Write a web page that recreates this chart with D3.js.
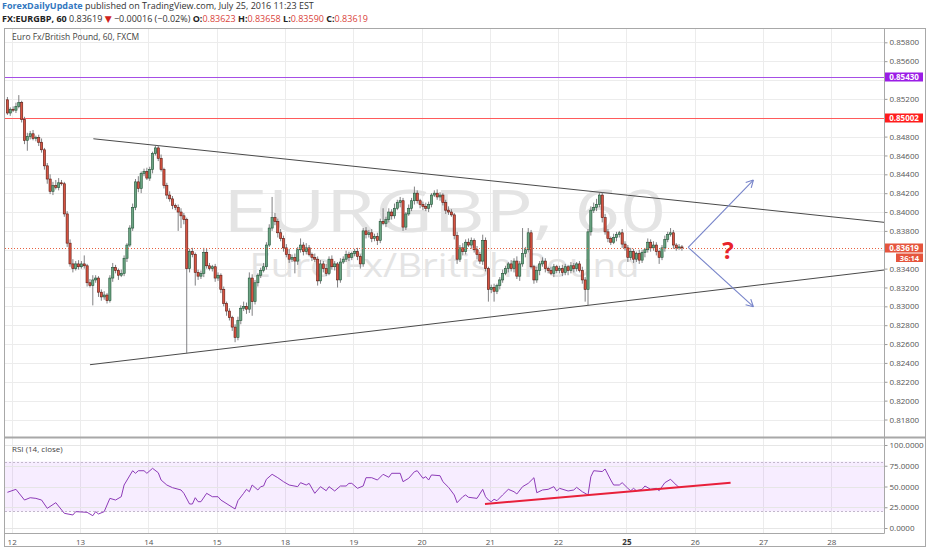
<!DOCTYPE html>
<html><head><meta charset="utf-8">
<script src="https://cdn.jsdelivr.net/npm/d3@7"></script>
<style>
body{margin:0;background:#fff}
svg{display:block}
text{font-family:"Open Sans","DejaVu Sans",sans-serif}
</style>
</head><body>
<svg id="c" width="932" height="550"></svg>
<script>
// ---------- DATA ----------
const dayLabels   = ["12","13","14","15","18","19","20","21","22","25","26","27","28"];
const dayStartBar = [0,24,48,72,96,120,144,168,192,216,240,264,288]; // hourly bar index of each session start
const firstBar  = -2;
const firstOpen = 8519;  // price x 10000
// hourly closes, price x 10000 (one line per session)
const closes = [
  8505,8509,
  8508,8512,8516,8498,8476,8480,8483,8478,8479,8474,8466,8449,8435,8422,8428,8426,8431,8430,8398,8367,8345,8340,8345,8342,
  8345,8343,8325,8322,8328,8330,8315,8310,8312,8306,8330,8341,8338,8333,8335,8351,8365,8383,8405,8432,8425,8441,8443,8436,
  8445,8462,8468,8457,8445,8428,8418,8414,8407,8405,8400,8396,8392,8340,8358,8355,8336,8332,8335,8357,8343,8340,8342,8330,
  8333,8318,8303,8295,8288,8278,8267,8285,8298,8300,8297,8330,8305,8325,8333,8338,8342,8365,8383,8394,8390,8378,8372,8362,
  8355,8350,8352,8348,8360,8365,8358,8362,8355,8352,8350,8327,8345,8340,8335,8350,8342,8345,8328,8347,8350,8355,8352,8356,
  8358,8353,8345,8380,8376,8378,8372,8374,8370,8390,8388,8392,8400,8396,8404,8410,8412,8384,8398,8404,8412,8420,8412,8408,
  8406,8404,8408,8418,8420,8416,8418,8410,8402,8400,8397,8375,8350,8362,8358,8368,8365,8370,8360,8355,8348,8370,8340,8318,
  8320,8316,8322,8328,8335,8340,8345,8340,8348,8332,8345,8356,8360,8378,8342,8328,8338,8345,8348,8340,8338,8335,8342,8338,
  8340,8336,8342,8338,8343,8340,8345,8338,8328,8318,8379,8402,8405,8408,8418,8394,8379,8372,8368,8373,8376,8378,8366,8362,
  8352,8358,8350,8356,8349,8357,8360,8368,8362,8365,8358,8352,8362,8371,8376,8378,8365,8362,8363,8362
];
// upper wick length above body, pips
const upperWick = [
  3,2,
  3,4,8,2,3,4,3,4,2,3,4,2,3,5,4,6,5,3,2,3,4,5,3,4,
  3,9,2,4,5,3,2,3,4,2,3,5,3,2,4,3,2,3,4,3,6,2,3,4,
  3,2,2,3,4,2,3,4,3,2,3,4,3,2,3,4,2,3,3,5,4,3,2,3,
  3,2,3,2,3,2,3,4,3,5,4,6,4,3,2,3,4,3,4,22,5,3,4,3,
  4,6,3,4,3,7,3,5,3,2,4,3,4,3,5,3,4,3,2,4,3,4,3,2,
  3,4,2,3,4,3,4,3,4,3,14,3,4,3,5,3,4,3,2,4,3,7,3,2,
  3,4,3,2,3,4,3,2,3,4,3,2,4,3,5,3,4,3,2,4,3,6,3,2,
  3,4,2,3,4,3,2,4,3,5,3,27,3,5,3,2,4,3,4,3,2,4,3,2,
  3,4,3,2,4,3,2,3,4,3,3,4,5,6,2,3,4,3,2,4,3,2,4,3,
  3,4,3,2,4,3,2,4,3,4,3,2,3,4,3,5,3,2,3,2
];
// lower wick length below body, pips
const lowerWick = [
  2,3,
  2,3,2,3,4,11,3,2,3,4,3,4,5,3,4,2,3,2,3,4,3,4,2,3,
  2,3,4,2,21,3,5,4,3,3,2,4,3,5,2,3,4,2,3,3,4,5,3,2,
  3,4,2,3,2,3,4,3,4,3,20,13,5,90,4,3,14,4,3,4,3,2,3,4,
  3,4,3,5,3,4,5,3,4,3,5,4,15,3,4,3,2,3,2,3,4,5,3,4,
  3,4,3,13,4,3,4,3,2,4,3,5,3,4,3,2,3,4,8,3,2,3,4,3,
  3,4,5,3,4,3,4,3,5,3,2,4,3,4,3,2,5,4,3,2,3,4,3,4,
  4,3,4,3,2,3,4,3,4,3,2,4,5,3,4,3,2,4,3,5,3,4,3,13,
  4,11,3,4,3,2,4,3,4,3,5,3,4,3,2,4,3,5,3,4,3,2,4,3,
  3,4,3,5,3,4,3,2,4,13,17,4,3,4,3,5,3,4,3,2,4,3,4,3,
  5,3,4,3,4,3,5,3,4,3,4,7,3,4,3,2,4,3,2,3
];
// RSI(14) readings: [bar, value]
const rsiPoints = [
  [-2,43],[1,46.6],[4,33.7],[6,36.5],[8,35.7],[10,33.7],[12,23.7],[15,30.5],[18,17.7],[21,15.7],[22,19.7],
  [26,18.9],[28,14.8],[29,19.7],[30,16.9],[32,19.7],[34,35.7],[36,33.7],[38,37.7],[39,51.8],[42,69],[43,65.9],
  [44,69],[46,69],[47,65.9],[49,71.9],[51,66.6],[52,57.8],[54,51.8],[56,48.6],[59,45.8],[60,41.8],[62,28.9],
  [63,28.9],[64,36.5],[65,31.7],[66,31.7],[68,41.8],[70,37.7],[72,37.7],[73,33.7],[78,22.9],[79,32.9],[81,41.8],
  [82,46.6],[83,43.7],[84,51.8],[86,45.8],[87,49.8],[88,50.6],[89,58.7],[91,64.7],[93,60.6],[95,55.8],[97,51.8],
  [100,49.8],[101,54.6],[103,51.8],[104,53.8],[106,41.8],[108,49.8],[110,44.9],[111,49.8],[113,44.6],[115,50.6],
  [117,50.6],[118,53.8],[119,53.8],[121,47.8],[123,50.6],[124,60.6],[126,60.6],[128,57.8],[130,64.7],[132,61.1],
  [133,65.9],[136,65.9],[137,55.8],[139,59.9],[141,67.8],[142,69],[144,59.9],[145,61.8],[146,57.8],[147,63.9],
  [150,63],[151,55.8],[153,49],[155,39.8],[156,30.5],[158,37.7],[159,39.8],[160,37],[163,35.7],[165,46.6],
  [166,37.7],[167,33.7],[168,31.7],[169,34.6],[170,32.9],[172,39.8],[174,46.6],[176,43.7],[177,41],[179,49.8],
  [181,53.8],[183,60.6],[184,42.5],[186,45.8],[188,46.6],[190,49.8],[191,44.6],[192,47.8],[195,44.6],[197,45.8],
  [198,49],[200,43.7],[202,39.8],[203,61.8],[204,69],[207,68],[208,71.1],[210,57.8],[211,51.8],[213,51.8],
  [214,54.6],[216,47.8],[217,44.9],[218,47.8],[219,44.9],[221,46.6],[222,50.6],[224,46.6],[226,47.8],[227,44.9],
  [229,54.6],[231,58.7],[233,51.8],[234,49]
];
const priceTicks = [0.818,0.820,0.822,0.824,0.826,0.828,0.830,0.832,0.834,0.836,0.838,0.840,0.842,0.844,0.846,0.848,0.850,0.852,0.854,0.856,0.858];
const rsiTicks   = [0,25,50,75,100];
const rsiBand    = [20,80];
const levelPrices = [0.85430, 0.85002];
const lastPrice   = 0.83619;
const countdown   = "36:14";
// drawings: [bar, price]
const upperTrend = [[28.7,0.84777],[306.5,0.83891]];
const lowerTrend = [[27.5,0.82381],[306.5,0.83385]];
const arrowApex  = [237.7,0.83626];
const arrowTips  = [[260.6,0.84339],[260.6,0.82996]];
const questionAt = [251.7,0.83502];
const rsiTrend   = [[166.3,28.9],[252.6,54.6]];
const symbolName = "EURGBP, 60";
const longName   = "Euro Fx/British Pound";

// ---------- LAYOUT ----------
const L=5, R=884, TOP=28, MAINB=437, RSIT=438, RSIB=533, AXB=546, RIGHT=926;
const svg = d3.select("#c");
svg.append("rect").attr("width",932).attr("height",550).attr("fill","#fff");

const x  = d3.scaleLinear().domain([-2.35,306.5]).range([L,R]);
const y  = d3.scaleLinear().domain([0.818,0.858]).range([419.5,42.3]);
const yr = d3.scaleLinear().domain([0,100]).range([528,445]);

const defs = svg.append("defs");
defs.append("clipPath").attr("id","mainClip").append("rect").attr("x",L).attr("y",TOP).attr("width",R-L).attr("height",MAINB-TOP);
defs.append("clipPath").attr("id","rsiClip").append("rect").attr("x",L).attr("y",RSIT).attr("width",R-L).attr("height",RSIB-RSIT);

const main = svg.append("g").attr("clip-path","url(#mainClip)");
const rsiG = svg.append("g").attr("clip-path","url(#rsiClip)");

// grid
main.selectAll("line.hg").data(priceTicks).join("line")
  .attr("x1",L).attr("x2",R).attr("y1",d=>Math.round(y(d))+0.5).attr("y2",d=>Math.round(y(d))+0.5)
  .attr("stroke","#ececec");
main.selectAll("line.vg").data(dayStartBar).join("line")
  .attr("x1",d=>Math.round(x(d))+0.5).attr("x2",d=>Math.round(x(d))+0.5).attr("y1",TOP).attr("y2",MAINB)
  .attr("stroke","#ececec");

// watermark
main.append("text").attr("x",(L+R)/2).attr("y",232).attr("text-anchor","middle")
  .attr("font-size",58).attr("fill","#e4e4e4").attr("textLength",443).attr("lengthAdjust","spacingAndGlyphs").text(symbolName);
main.append("text").attr("x",(L+R)/2).attr("y",277).attr("text-anchor","middle")
  .attr("font-size",33).attr("fill","#e4e4e4").attr("textLength",390).attr("lengthAdjust","spacingAndGlyphs").text(longName);

// horizontal levels
const levelColors = ["#a64ee6","#ff5b5b"];
main.selectAll("line.lvl").data(levelPrices).join("line")
  .attr("x1",L).attr("x2",R).attr("y1",d=>Math.round(y(d))+0.5).attr("y2",d=>Math.round(y(d))+0.5)
  .attr("stroke",(d,i)=>levelColors[i]).attr("stroke-width",1);

// trend lines
const tl = d3.line().x(d=>x(d[0])).y(d=>y(d[1]));
[upperTrend,lowerTrend].forEach(t=>{
  main.append("path").attr("d",tl(t)).attr("stroke","#4a4a4a").attr("stroke-width",1).attr("fill","none");
});

// candles
let prev = firstOpen;
const candles = closes.map((c,i)=>{
  const o = prev; prev = c;
  return {bar:firstBar+i, o:o/1e4, c:c/1e4, h:(Math.max(o,c)+upperWick[i])/1e4, l:(Math.min(o,c)-lowerWick[i])/1e4};
});
const cg = main.append("g");
cg.selectAll("line").data(candles).join("line")
  .attr("x1",d=>x(d.bar+0.5)).attr("x2",d=>x(d.bar+0.5))
  .attr("y1",d=>y(d.h)).attr("y2",d=>y(d.l))
  .attr("stroke","#737375").attr("stroke-width",0.9);
cg.selectAll("rect").data(candles).join("rect")
  .attr("x",d=>x(d.bar+0.5)-1.1).attr("width",2.2)
  .attr("y",d=>y(Math.max(d.o,d.c)))
  .attr("height",d=>Math.max(0.8,Math.abs(y(d.o)-y(d.c))))
  .attr("fill",d=>d.c>=d.o?"#6ba583":"#d75442")
  .attr("stroke",d=>d.c>=d.o?"#225437":"#5b1a13").attr("stroke-width",0.6);

// last price dotted line
main.append("line").attr("x1",L).attr("x2",R).attr("y1",Math.round(y(lastPrice))+0.5).attr("y2",Math.round(y(lastPrice))+0.5)
  .attr("stroke","#e8603f").attr("stroke-dasharray","1,2");

// arrows
const ax0 = x(arrowApex[0]), ay0 = y(arrowApex[1]);
arrowTips.forEach(t=>{
  const tx = x(t[0]), ty = y(t[1]);
  main.append("line").attr("x1",ax0).attr("y1",ay0).attr("x2",tx).attr("y2",ty).attr("stroke","#7683c9").attr("stroke-width",1.1);
  const ang = Math.atan2(ty-ay0, tx-ax0);
  [-0.5,0.5].forEach(s=>{
    main.append("line").attr("x1",tx).attr("y1",ty)
      .attr("x2",tx-8*Math.cos(ang+s)).attr("y2",ty-8*Math.sin(ang+s))
      .attr("stroke","#7683c9").attr("stroke-width",1.1);
  });
});
main.append("text").attr("x",x(questionAt[0])).attr("y",y(questionAt[1])).attr("text-anchor","middle")
  .attr("font-size",24).attr("font-weight","bold").attr("fill","#e8232a").text("?");

// pane title
svg.append("text").attr("x",12).attr("y",40).attr("font-size",8.5).attr("fill","#444").text("Euro Fx/British Pound, 60, FXCM");

// ---------- RSI ----------
rsiG.selectAll("line.vg").data(dayStartBar).join("line")
  .attr("x1",d=>Math.round(x(d))+0.5).attr("x2",d=>Math.round(x(d))+0.5).attr("y1",RSIT).attr("y2",RSIB)
  .attr("stroke","#ececec");
rsiG.append("rect").attr("x",L).attr("width",R-L).attr("y",yr(rsiBand[1])).attr("height",yr(rsiBand[0])-yr(rsiBand[1]))
  .attr("fill","#9915ff").attr("fill-opacity",0.08);
rsiG.selectAll("line.hg").data(rsiTicks).join("line")
  .attr("x1",L).attr("x2",R).attr("y1",d=>Math.round(yr(d))+0.5).attr("y2",d=>Math.round(yr(d))+0.5)
  .attr("stroke","#e6e6e6");
rsiG.selectAll("line.band").data(rsiBand).join("line")
  .attr("x1",L).attr("x2",R).attr("y1",d=>Math.round(yr(d))+0.5).attr("y2",d=>Math.round(yr(d))+0.5)
  .attr("stroke","#c3b8cc").attr("stroke-dasharray","2,2");
rsiG.append("path").datum(rsiPoints)
  .attr("d",d3.line().x(d=>x(d[0]+0.5)).y(d=>yr(d[1])))
  .attr("fill","none").attr("stroke","#8d3bb8").attr("stroke-width",1);
rsiG.append("path").datum(rsiTrend)
  .attr("d",d3.line().x(d=>x(d[0])).y(d=>yr(d[1])))
  .attr("fill","none").attr("stroke","#e8203a").attr("stroke-width",2);
svg.append("text").attr("x",12).attr("y",452).attr("font-size",8).attr("fill","#444").text("RSI (14, close)");

// ---------- AXES ----------
const covered = [...levelPrices, lastPrice];
const pAxis = svg.append("g").attr("transform",`translate(${R+0.5},0)`)
  .call(d3.axisRight(y).tickValues(priceTicks).tickSize(3).tickPadding(2).tickFormat(d3.format(".5f")));
pAxis.selectAll(".tick").filter(d=>covered.some(c=>Math.abs(y(c)-y(d))<8)).select("text").remove();
const rAxis = svg.append("g").attr("transform",`translate(${R+0.5},0)`)
  .call(d3.axisRight(yr).tickValues(rsiTicks).tickSize(3).tickPadding(2).tickFormat(d3.format(".4f")));
const xAxis = svg.append("g").attr("transform",`translate(0,${RSIB+0.5})`)
  .call(d3.axisBottom(x).tickValues(dayStartBar).tickSize(0).tickPadding(6).tickFormat((d,i)=>dayLabels[i]));
[pAxis,rAxis,xAxis].forEach(g=>{
  g.select(".domain").remove();
  g.selectAll("line").attr("stroke","#9a9a9a");
  g.selectAll("text").attr("font-size",8).attr("fill","#555").attr("font-family","'Open Sans',sans-serif");
});
xAxis.selectAll("text").filter(d=>dayLabels[dayStartBar.indexOf(d)]==="25").attr("font-weight","bold").attr("fill","#333");

// ---------- FRAME ----------
const frame = svg.append("g").attr("fill","none").attr("stroke","#a8a8a8");
frame.append("rect").attr("x",L-0.5).attr("y",TOP+0.5).attr("width",RIGHT-L).attr("height",AXB-TOP);
frame.append("line").attr("x1",L).attr("x2",RIGHT).attr("y1",MAINB+0.5).attr("y2",MAINB+0.5).attr("stroke-width",2);
frame.append("line").attr("x1",L).attr("x2",R+0.5).attr("y1",RSIB+0.5).attr("y2",RSIB+0.5);
frame.append("line").attr("x1",R+0.5).attr("x2",R+0.5).attr("y1",TOP).attr("y2",RSIB+0.5);

// ---------- PRICE LABEL BOXES ----------
function priceBox(val, color, text, x0){
  const yy = Math.round(y(val));
  svg.append("rect").attr("x",x0).attr("y",yy-4.5).attr("width",923-x0).attr("height",9).attr("fill",color);
  svg.append("text").attr("x",(x0+923)/2).attr("y",yy+3).attr("text-anchor","middle")
    .attr("font-size",8).attr("font-weight","bold").attr("fill","#fff").text(text);
}
priceBox(levelPrices[0],"#9b1de6",d3.format(".5f")(levelPrices[0]),885);
priceBox(levelPrices[1],"#ff1c1c",d3.format(".5f")(levelPrices[1]),885);
priceBox(lastPrice,"#e5553d",d3.format(".5f")(lastPrice),885);
{
  const yy = Math.round(y(lastPrice))+9.5;
  svg.append("rect").attr("x",896).attr("y",yy-4).attr("width",27).attr("height",8.5).attr("fill","#e5553d");
  svg.append("text").attr("x",909.5).attr("y",yy+3).attr("text-anchor","middle")
    .attr("font-size",7.5).attr("font-weight","bold").attr("fill","#fff").text(countdown);
}

// ---------- HEADER ----------
const h1 = svg.append("text").attr("x",2).attr("y",9).attr("font-size",9).attr("fill","#333");
h1.append("tspan").attr("fill","#3277c0").attr("font-weight","bold").text("ForexDailyUpdate");
h1.append("tspan").text(" published on TradingView.com, July 25, 2016 11:23 EST");
const h2 = svg.append("text").attr("x",2).attr("y",22).attr("font-size",9).attr("fill","#333");
h2.append("tspan").attr("font-weight","bold").attr("fill","#222").text("FX:EURGBP, 60");
h2.append("tspan").text(" 0.83619 ");
h2.append("tspan").attr("fill","#d0231e").text("▼");
h2.append("tspan").text(" −0.00016 (−0.02%) ");
[["O:","0.83623"],["H:","0.83658"],["L:","0.83590"],["C:","0.83619"]].forEach((p,i)=>{
  h2.append("tspan").attr("font-weight","bold").attr("fill","#222").text((i?" ":"")+p[0]);
  h2.append("tspan").attr("fill","#d9433a").text(p[1]);
});
</script>
</body></html>
